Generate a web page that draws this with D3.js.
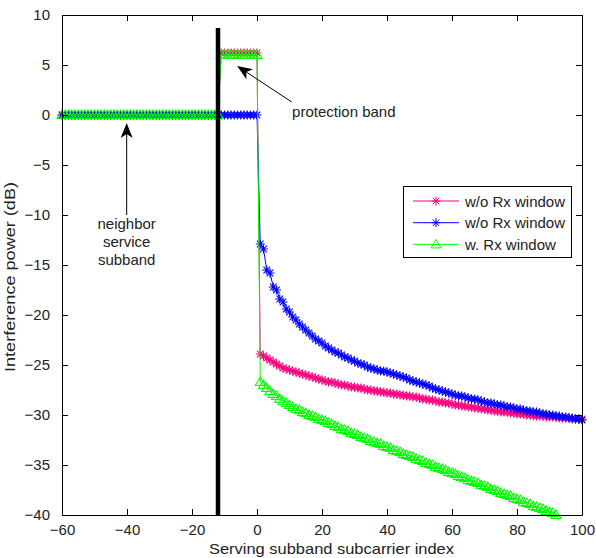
<html>
<head>
<meta charset="utf-8">
<script src='https://d3js.org/d3.v7.min.js'></script>
<style>
	body { margin: 0; background: white; }
	svg { display: block; font-family: "Liberation Sans", Arial, sans-serif; }
</style>
</head>
<body>
<svg width=596 height=558></svg>
<script>
// subcarrier index -60 .. 100
var subcarrierIdx = d3.range(-60, 101);

// w/o Rx window (pink)
var pinkDb = [
  0,0,0,0,0,0,0,0,0,0, 0,0,0,0,0,0,0,0,0,0, 0,0,0,0,0,0,0,0,0,0, 0,0,0,0,0,0,0,0,0,0, 0,0,0,0,0,0,0,0,0,
  6.2,6.2,6.2,6.2,6.2,6.2,6.2,6.2,6.2,6.2,6.2,6.2,
  -23.9,-24.1,-24.3,-24.5,-24.7,-24.9,-25.1,-25.3,-25.4,-25.5,
  -25.6,-25.7,-25.8,-25.9,-26.0,-26.1,-26.2,-26.3,-26.4,-26.5,
  -26.6,-26.7,-26.7,-26.8,-26.9,-27.0,-27.0,-27.1,-27.2,-27.2,
  -27.3,-27.3,-27.4,-27.5,-27.5,-27.6,-27.6,-27.7,-27.7,-27.8,
  -27.8,-27.9,-27.9,-28.0,-28.0,-28.1,-28.1,-28.2,-28.2,-28.3,
  -28.4,-28.4,-28.5,-28.5,-28.6,-28.7,-28.7,-28.8,-28.8,-28.9,
  -29.0,-29.0,-29.1,-29.1,-29.2,-29.2,-29.3,-29.3,-29.4,-29.4,
  -29.5,-29.5,-29.6,-29.6,-29.7,-29.7,-29.7,-29.8,-29.8,-29.9,
  -29.9,-29.9,-30.0,-30.0,-30.1,-30.1,-30.1,-30.1,-30.2,-30.2,
  -30.2,-30.2,-30.3,-30.3,-30.3,-30.3,-30.4,-30.4,-30.4,-30.4
];

// w/o Rx window (blue)
var blueDb = [
  0,0,0,0,0,0,0,0,0,0, 0,0,0,0,0,0,0,0,0,0, 0,0,0,0,0,0,0,0,0,0,
  0,0,0,0,0,0,0,0,0,0, 0,0,0,0,0,0,0,0,0,0, 0,0,0,0,0,0,0,0,0,0, 0,
  -12.9,-13.4,-15.5,-15.8,-17.2,-17.5,-18.4,-18.7,-19.4,-19.7,
  -20.2,-20.5,-20.9,-21.2,-21.5,-21.8,-22.1,-22.4,-22.6,-22.8,
  -23.1,-23.3,-23.5,-23.7,-23.8,-24.0,-24.2,-24.3,-24.5,-24.6,
  -24.8,-24.9,-25.0,-25.2,-25.3,-25.4,-25.5,-25.6,-25.6,-25.7,
  -25.8,-25.9,-26.0,-26.1,-26.2,-26.3,-26.5,-26.6,-26.7,-26.8,
  -26.9,-27.0,-27.1,-27.3,-27.4,-27.5,-27.6,-27.7,-27.8,-27.9,
  -28.0,-28.1,-28.1,-28.2,-28.3,-28.4,-28.4,-28.5,-28.6,-28.7,
  -28.8,-28.8,-28.9,-29.0,-29.0,-29.1,-29.2,-29.2,-29.3,-29.4,
  -29.4,-29.5,-29.6,-29.6,-29.7,-29.7,-29.8,-29.9,-29.9,-30.0,
  -30.0,-30.1,-30.1,-30.2,-30.2,-30.3,-30.3,-30.4,-30.4,-30.5
];

// w. Rx window (green), visible up to index 92
var greenDb = [
  0,0,0,0,0,0,0,0,0,0, 0,0,0,0,0,0,0,0,0,0, 0,0,0,0,0,0,0,0,0,0, 0,0,0,0,0,0,0,0,0,0, 0,0,0,0,0,0,0,0,0,
  6.0,6.0,6.0,6.0,6.0,6.0,6.0,6.0,6.0,6.0,6.0,6.0,
  -26.7,-27.0,-27.3,-27.6,-27.9,-28.1,-28.4,-28.6,-28.8,-29.0,
  -29.2,-29.4,-29.5,-29.7,-29.8,-30.0,-30.1,-30.2,-30.4,-30.5,
  -30.6,-30.8,-30.9,-31.1,-31.2,-31.4,-31.5,-31.6,-31.8,-31.9,
  -32.0,-32.2,-32.3,-32.4,-32.6,-32.7,-32.8,-32.9,-33.1,-33.2,
  -33.3,-33.5,-33.6,-33.7,-33.9,-34.0,-34.1,-34.2,-34.4,-34.5,
  -34.6,-34.8,-34.9,-35.0,-35.2,-35.3,-35.4,-35.5,-35.7,-35.8,
  -35.9,-36.1,-36.2,-36.3,-36.5,-36.6,-36.7,-36.8,-37.0,-37.1,
  -37.2,-37.4,-37.5,-37.6,-37.8,-37.9,-38.0,-38.1,-38.3,-38.4,
  -38.5,-38.7,-38.8,-38.9,-39.1,-39.2,-39.3,-39.4,-39.6,-39.7,
  -39.8,-40.0
];

var legendLabels = ["w/o Rx window", "w/o Rx window", "w. Rx window"];
var xTicks = [-60, -40, -20, 0, 20, 40, 60, 80, 100];
var yTicks = [-40, -35, -30, -25, -20, -15, -10, -5, 0, 5, 10];

var series = [
  {name: legendLabels[0], color: "#ff0080", marker: "star", values: pinkDb},
  {name: legendLabels[1], color: "#0000ff", marker: "star", values: blueDb},
  {name: legendLabels[2], color: "#00ff00", marker: "tri", values: greenDb}
];

var m = {left: 62, right: 582, top: 15, bottom: 515};
var svg = d3.select("svg");

var x = d3.scaleLinear().domain([-60, 100]).range([m.left, m.right]);
var y = d3.scaleLinear().domain([-40, 10]).range([m.bottom, m.top]);

svg.append("rect").attr("width", 596).attr("height", 558).attr("fill", "white");

svg.append("defs").append("clipPath").attr("id", "clip")
  .append("rect").attr("x", m.left).attr("y", m.top)
  .attr("width", m.right - m.left).attr("height", m.bottom - m.top);

var markerPath = {
  star: "M-4.5,0H4.5M0,-4.5V4.5M-3.3,-3.3L3.3,3.3M-3.3,3.3L3.3,-3.3",
  tri: "M0,-5L5,3.5L-5,3.5Z"
};

var line = d3.line()
  .x(function(d) { return x(d.k); })
  .y(function(d) { return y(d.v); });

series.forEach(function(s) {
  var pts = s.values.map(function(v, i) { return {k: subcarrierIdx[i], v: v}; });
  var g = svg.append("g");
  g.append("path").datum(pts)
    .attr("clip-path", "url(#clip)")
    .attr("fill", "none")
    .attr("stroke", s.color)
    .attr("stroke-width", 1)
    .attr("d", line);
  g.selectAll(".m").data(pts).enter().append("path")
    .attr("transform", function(d) { return "translate(" + x(d.k) + "," + y(d.v) + ")"; })
    .attr("d", markerPath[s.marker])
    .attr("fill", "none")
    .attr("stroke", s.color)
    .attr("stroke-width", 1.1);
});

// black separator at index -12
svg.append("line")
  .attr("x1", x(-12)).attr("x2", x(-12))
  .attr("y1", y(8.7)).attr("y2", y(-40))
  .attr("stroke", "black").attr("stroke-width", 4.5);

// axes, ticks pointing inward
var fontSize = 15;
var ax = svg.append("g");
ax.append("g").attr("transform", "translate(0," + m.bottom + ")")
  .call(d3.axisBottom(x).tickValues(xTicks).tickSizeInner(-6).tickSizeOuter(0).tickPadding(9));
ax.append("g").attr("transform", "translate(0," + m.top + ")")
  .call(d3.axisTop(x).tickValues(xTicks).tickSizeInner(-6).tickSizeOuter(0).tickFormat(""));
ax.append("g").attr("transform", "translate(" + m.left + ",0)")
  .call(d3.axisLeft(y).tickValues(yTicks).tickSizeInner(-6).tickSizeOuter(0).tickPadding(12));
ax.append("g").attr("transform", "translate(" + m.right + ",0)")
  .call(d3.axisRight(y).tickValues(yTicks).tickSizeInner(-6).tickSizeOuter(0).tickFormat(""));
ax.selectAll("path.domain").attr("stroke", "black");
ax.selectAll(".tick line").attr("stroke", "black");
ax.selectAll("text")
  .attr("font-size", fontSize)
  .attr("font-family", "Liberation Sans, Arial, sans-serif")
  .attr("fill", "#222");

// axis labels
svg.append("text")
  .attr("x", 209).attr("y", 554)
  .attr("font-size", fontSize).attr("fill", "#222")
  .attr("textLength", 245).attr("lengthAdjust", "spacingAndGlyphs")
  .text("Serving subband subcarrier index");
svg.append("text")
  .attr("transform", "translate(15,372) rotate(-90)")
  .attr("font-size", fontSize).attr("fill", "#222")
  .attr("textLength", 190).attr("lengthAdjust", "spacingAndGlyphs")
  .text("Interference power (dB)");

// arrows
function arrow(x0, y0, x1, y1) {
  var a = Math.atan2(y1 - y0, x1 - x0);
  var L = 15, W = 6, N = 11;
  var c = Math.cos(a), s = Math.sin(a);
  svg.append("line")
    .attr("x1", x0).attr("y1", y0)
    .attr("x2", x1 - c * N).attr("y2", y1 - s * N)
    .attr("stroke", "black").attr("stroke-width", 1);
  var p1 = [x1 - c * L - s * W, y1 - s * L + c * W];
  var p2 = [x1 - c * N, y1 - s * N];
  var p3 = [x1 - c * L + s * W, y1 - s * L - c * W];
  svg.append("path")
    .attr("d", "M" + x1 + "," + y1 + "L" + p1 + "L" + p2 + "L" + p3 + "Z")
    .attr("fill", "black");
}
arrow(x(10.7), y(1.3), x(-6.1), y(4.9));
arrow(x(-40.1), y(-10), x(-40.1), y(-0.8));

svg.append("text")
  .attr("x", x(10.8)).attr("y", y(-0.2))
  .attr("font-size", fontSize).attr("fill", "#222")
  .text("protection band");

svg.append("g").selectAll("text")
  .data(["neighbor", "service", "subband"]).enter().append("text")
  .attr("x", x(-40.1)).attr("y", function(d, i) { return y(-11.4) + i * 18; })
  .attr("text-anchor", "middle")
  .attr("font-size", fontSize).attr("fill", "#222")
  .text(function(d) { return d; });

// legend
var lg = svg.append("g");
lg.append("rect")
  .attr("x", 403.5).attr("y", 186.5).attr("width", 168).attr("height", 71)
  .attr("fill", "white").attr("stroke", "black").attr("stroke-width", 1);
series.forEach(function(s, i) {
  var ry = 201 + i * 21.7;
  lg.append("line").attr("x1", 413).attr("x2", 459).attr("y1", ry).attr("y2", ry)
    .attr("stroke", s.color).attr("stroke-width", 1);
  lg.append("path").attr("transform", "translate(436," + ry + ")")
    .attr("d", markerPath[s.marker]).attr("fill", "none").attr("stroke", s.color);
  lg.append("text").attr("x", 465).attr("y", ry + 5.5)
    .attr("font-size", fontSize).attr("fill", "#222")
    .text(s.name);
});
</script>
</body>
</html>
